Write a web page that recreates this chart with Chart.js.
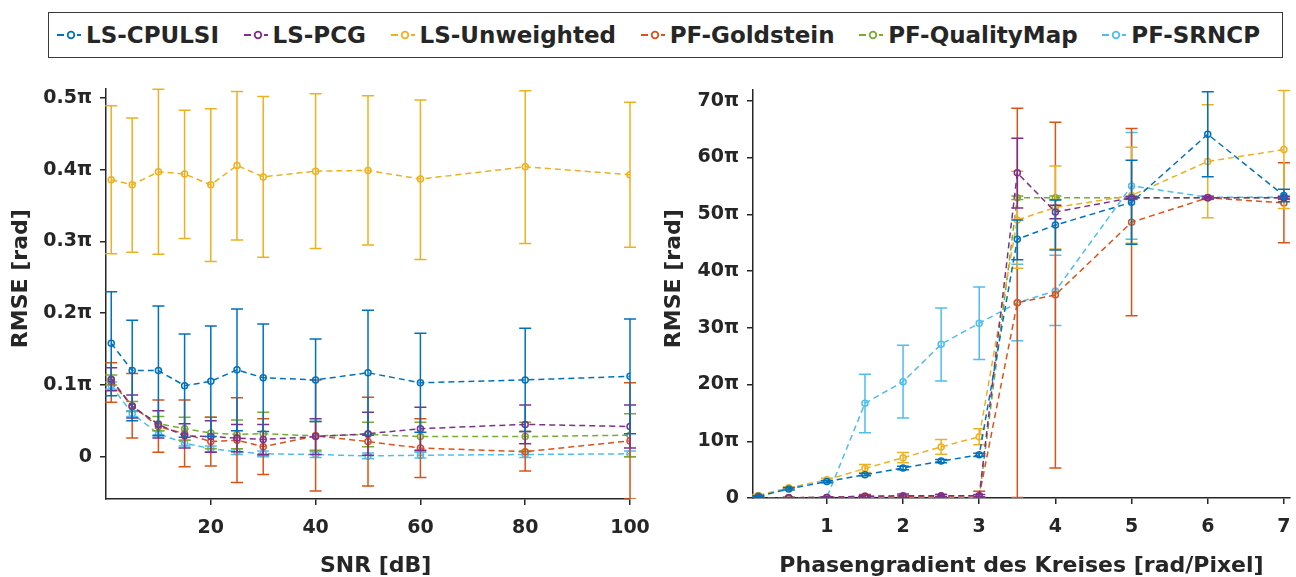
<!DOCTYPE html>
<html><head><meta charset="utf-8">
<script src="https://cdn.jsdelivr.net/npm/chart.js@4"></script>
<style>
html,body{margin:0;padding:0;background:#fff;width:1296px;height:577px;overflow:hidden;}
#legend{position:absolute;left:48px;top:12px;width:1235px;height:46px;box-sizing:border-box;border:1px solid #3a3a3a;display:flex;align-items:center;justify-content:space-between;padding:0 22px 0 8px;font-family:"DejaVu Sans";font-weight:bold;font-size:23px;color:#262626;}
.item{display:flex;align-items:center;white-space:nowrap}
.item svg{margin-right:5px}
#c1wrap{position:absolute;left:0;top:70px;width:660px;height:507px}
#c2wrap{position:absolute;left:650px;top:70px;width:646px;height:507px}
</style></head>
<body>
<div id="legend"></div>
<div id="c1wrap"><canvas id="c1" width="660" height="507"></canvas></div>
<div id="c2wrap"><canvas id="c2" width="646" height="507"></canvas></div>
<script>
// ---------- names & colours ----------
const names  = ['LS-CPULSI','LS-PCG','LS-Unweighted','PF-Goldstein','PF-QualityMap','PF-SRNCP'];
const colors = ['#0072BD','#7E2F8E','#EDB120','#D95319','#77AC30','#4DBEEE'];

// ---------- left chart: RMSE (in units of pi) vs SNR ----------
const snr = [1,5,10,15,20,25,30,40,50,60,80,100];
const snrTicks = [20,40,60,80,100];
const rmseTicksLeft = [0,0.1,0.2,0.3,0.4,0.5];

const snrCpulsi    = [0.158,0.120,0.120,0.099,0.105,0.121,0.110,0.107,0.117,0.103,0.107,0.112];
const snrCpulsiHi  = [0.230,0.190,0.210,0.171,0.182,0.206,0.185,0.164,0.204,0.172,0.179,0.192];
const snrCpulsiLo  = [0.085,0.050,0.030,0.027,0.028,0.036,0.035,0.049,0.030,0.034,0.035,0.032];

const snrPcg       = [0.108,0.070,0.045,0.029,0.028,0.026,0.024,0.028,0.032,0.039,0.045,0.042];
const snrPcgHi     = [0.124,0.086,0.064,0.046,0.050,0.045,0.045,0.053,0.062,0.069,0.072,0.072];
const snrPcgLo     = [0.092,0.054,0.026,0.012,0.006,0.007,0.003,0.003,0.002,0.009,0.018,0.012];

const snrUnw       = [0.386,0.379,0.397,0.394,0.379,0.406,0.390,0.398,0.399,0.387,0.404,0.393];
const snrUnwHi     = [0.489,0.472,0.512,0.483,0.485,0.509,0.502,0.506,0.503,0.497,0.510,0.494];
const snrUnwLo     = [0.283,0.285,0.282,0.304,0.272,0.302,0.278,0.290,0.295,0.275,0.297,0.292];

const snrGold      = [0.104,0.071,0.042,0.032,0.021,0.023,0.014,0.029,0.021,0.012,0.007,0.022];
const snrGoldHi    = [0.131,0.116,0.079,0.079,0.055,0.082,0.053,0.107,0.083,0.053,0.035,0.103];
const snrGoldLo    = [0.076,0.026,0.006,-0.014,-0.013,-0.036,-0.025,-0.048,-0.041,-0.029,-0.020,-0.059];

const snrQmap      = [0.107,0.070,0.046,0.039,0.033,0.031,0.032,0.029,0.031,0.028,0.028,0.030];
const snrQmapHi    = [0.114,0.077,0.056,0.055,0.055,0.051,0.062,0.049,0.048,0.048,0.048,0.060];
const snrQmapLo    = [0.100,0.063,0.036,0.023,0.011,0.011,0.002,0.009,0.014,0.008,0.008,0.000];

const snrSrncp     = [0.099,0.060,0.032,0.019,0.011,0.007,0.004,0.003,0.001,0.002,0.003,0.004];
const snrSrncpHi   = [0.104,0.064,0.036,0.023,0.015,0.011,0.008,0.007,0.005,0.006,0.007,0.008];
const snrSrncpLo   = [0.094,0.056,0.028,0.015,0.007,0.003,0.000,-0.001,-0.003,-0.002,-0.001,0.000];

// ---------- right chart: RMSE (in units of pi) vs phase gradient ----------
const grad = [0.1,0.5,1,1.5,2,2.5,3,3.5,4,5,6,7];
const gradTicks = [1,2,3,4,5,6,7];
const rmseTicksRight = [0,10,20,30,40,50,60,70];

const grCpulsi   = [0.3,1.6,2.9,4.1,5.3,6.5,7.6,45.6,48.1,52.1,64.1,53.3];
const grCpulsiHi = [0.4,1.8,3.1,4.3,5.6,6.8,7.9,49.0,52.5,59.5,71.6,54.4];
const grCpulsiLo = [0.2,1.4,2.7,3.9,5.0,6.2,7.3,42.0,43.7,44.7,56.6,52.2];

const grPcg      = [0.05,0.05,0.1,0.3,0.4,0.4,0.4,57.3,50.4,52.9,52.9,52.9];
const grPcgHi    = [0.1,0.1,0.2,0.5,0.7,0.6,0.6,63.4,51.6,53.1,53.1,53.1];
const grPcgLo    = [0.0,0.0,0.0,0.1,0.1,0.2,0.2,51.1,49.2,52.7,52.7,52.7];

const grUnw      = [0.45,1.8,3.2,5.2,7.1,9.0,10.8,49.0,51.2,53.3,59.3,61.4];
const grUnwHi    = [0.6,2.0,3.5,5.9,8.0,10.3,12.2,57.6,58.5,61.8,69.3,71.8];
const grUnwLo    = [0.3,1.6,2.9,4.5,6.2,7.7,9.4,40.5,43.9,44.9,49.4,51.0];

const grGold     = [0.05,0.05,0.1,0.3,0.2,0.3,0.4,34.4,35.8,48.6,52.9,52.0];
const grGoldHi   = [0.1,0.1,0.2,0.6,0.4,0.6,1.2,68.7,66.2,65.1,53.1,59.1];
const grGoldLo   = [0.0,0.0,0.0,0.0,0.0,0.0,0.0,0.1,5.3,32.1,52.7,45.0];

const grQmap     = [0.05,0.05,0.05,0.05,0.05,0.05,0.05,52.9,52.9,52.9,52.9,52.9];
const grQmapHi   = [0.15,0.15,0.15,0.15,0.15,0.15,0.15,53.2,53.2,53.2,53.2,53.2];
const grQmapLo   = [0.0,0.0,0.0,0.0,0.0,0.0,0.0,52.6,52.6,52.6,52.6,52.6];

const grSrncp    = [0.0,0.0,0.1,16.7,20.5,27.1,30.8,34.4,36.5,55.0,53.0,53.0];
const grSrncpHi  = [0.1,0.1,0.2,21.8,26.9,33.5,37.2,41.2,42.8,64.4,53.2,53.2];
const grSrncpLo  = [0.0,0.0,0.0,11.5,14.1,20.6,24.4,27.7,30.4,45.6,52.8,52.8];

// ---------- legend (HTML text) ----------
const legend = document.getElementById('legend');
names.forEach((n,i)=>{
  const it = document.createElement('div'); it.className='item';
  it.innerHTML = '<svg width="24" height="12"><line x1="0" y1="6" x2="24" y2="6" stroke="'+colors[i]+'" stroke-width="2" stroke-dasharray="7,3"/><circle cx="14" cy="6" r="3.3" fill="#fff" stroke="'+colors[i]+'" stroke-width="1.8"/></svg><span>'+n+'</span>';
  legend.appendChild(it);
});

// ---------- error bar plugin ----------
const errorBars = {
  id:'errorBars',
  afterDatasetDraw(chart, args){
    const ds = chart.data.datasets[args.index];
    if(!ds.errHi) return;
    const {ctx, chartArea:a} = chart;
    const xs = chart.scales.x, ys = chart.scales.y;
    ctx.save();
    ctx.beginPath(); ctx.rect(a.left-8, a.top-1, a.right-a.left+16, a.bottom-a.top+1); ctx.clip();
    ctx.strokeStyle = ds.borderColor; ctx.lineWidth = 1.5; ctx.setLineDash([]);
    const cap = 6;
    ds.data.forEach((p,i)=>{
      const x = xs.getPixelForValue(p.x);
      const y1 = ys.getPixelForValue(ds.errHi[i]);
      const y2 = ys.getPixelForValue(ds.errLo[i]);
      ctx.beginPath();
      ctx.moveTo(x,y1); ctx.lineTo(x,y2);
      ctx.moveTo(x-cap,y1); ctx.lineTo(x+cap,y1);
      ctx.moveTo(x-cap,y2); ctx.lineTo(x+cap,y2);
      ctx.stroke();
    });
    ctx.restore();
  }
};

const TXT = '#262626';
const tickFont = {family:'DejaVu Sans', size:19, weight:'bold'};
const titleFont = {family:'DejaVu Sans', size:22, weight:'bold', lineHeight:1};

function mkDs(xv, m, hi, lo, i){
  return {
    label: names[i],
    data: xv.map((x,k)=>({x:x, y:m[k]})),
    errHi: hi, errLo: lo,
    borderColor: colors[i], backgroundColor: colors[i],
    borderWidth: 1.5, borderDash:[6,4],
    pointRadius: 3, pointBorderWidth: 1.5, pointBackgroundColor:'rgba(255,255,255,0)',
    pointBorderColor: colors[i], tension:0, fill:false
  };
}

function axisCommon(){
  return {
    type:'linear',
    grid:{drawOnChartArea:false, drawTicks:true, tickLength:6, color:TXT, lineWidth:1.5},
    border:{display:true, color:TXT, width:1.5},
  };
}

function zeroPad(s){ s.paddingLeft = 0; s.paddingRight = 0; s.paddingTop = 0; s.paddingBottom = 0; }

function makeChart(id, cfg){
  return new Chart(document.getElementById(id), {
    type:'line',
    data:{datasets: cfg.datasets},
    options:{
      responsive:false, animation:false,
      layout:{padding:cfg.padding},
      plugins:{legend:{display:false}, tooltip:{enabled:false}},
      scales:{
        x: Object.assign(axisCommon(), {
          min: cfg.xmin, max: cfg.xmax,
          afterBuildTicks: s=>{ s.ticks = cfg.xticks.map(v=>({value:v})); },
          afterFit: s=>{ s.height = cfg.xh; zeroPad(s); },
          ticks:{font:tickFont, color:TXT, padding:12, maxRotation:0},
          title:{display:true, text:cfg.xtitle, font:titleFont, color:TXT, padding:{top:0,bottom:0}}
        }),
        y: Object.assign(axisCommon(), {
          min: cfg.ymin, max: cfg.ymax,
          afterBuildTicks: s=>{ s.ticks = cfg.yticks.map(v=>({value:v})); },
          afterFit: s=>{ s.width = cfg.yw; zeroPad(s); },
          ticks:{font:tickFont, color:TXT, padding:8, callback:cfg.yfmt},
          title:{display:true, text:cfg.ytitle, font:{family:'DejaVu Sans', size:22, weight:'bold', lineHeight:1.2}, color:TXT, padding:{top:cfg.ytpad,bottom:0}}
        })
      }
    },
    plugins:[errorBars]
  });
}

makeChart('c1', {
  datasets:[
    mkDs(snr, snrCpulsi, snrCpulsiHi, snrCpulsiLo, 0),
    mkDs(snr, snrPcg, snrPcgHi, snrPcgLo, 1),
    mkDs(snr, snrUnw, snrUnwHi, snrUnwLo, 2),
    mkDs(snr, snrGold, snrGoldHi, snrGoldLo, 3),
    mkDs(snr, snrQmap, snrQmapHi, snrQmapLo, 4),
    mkDs(snr, snrSrncp, snrSrncpHi, snrSrncpLo, 5)
  ],
  padding:{top:19, right:30, left:0, bottom:0},
  xmin:0, xmax:100, xticks:snrTicks, xh:78, xtitle:'  SNR [dB]',
  ymin:-0.059, ymax:0.5125, yticks:rmseTicksLeft, yw:106, ytpad:8,
  ytitle:'    RMSE [rad]',
  yfmt: v => v===0 ? '0' : v.toFixed(1)+'π'
});

makeChart('c2', {
  datasets:[
    mkDs(grad, grCpulsi, grCpulsiHi, grCpulsiLo, 0),
    mkDs(grad, grPcg, grPcgHi, grPcgLo, 1),
    mkDs(grad, grUnw, grUnwHi, grUnwLo, 2),
    mkDs(grad, grGold, grGoldHi, grGoldLo, 3),
    mkDs(grad, grQmap, grQmapHi, grQmapLo, 4),
    mkDs(grad, grSrncp, grSrncpHi, grSrncpLo, 5)
  ],
  padding:{top:20, right:6, left:0, bottom:0},
  xmin:0.03, xmax:7.08, xticks:gradTicks, xh:79, xtitle:'Phasengradient des Kreises [rad/Pixel]',
  ymin:0, ymax:71.9, yticks:rmseTicksRight, yw:103, ytpad:11,
  ytitle:'    RMSE [rad]',
  yfmt: v => v===0 ? '0' : v+'π'
});
</script>
</body></html>
